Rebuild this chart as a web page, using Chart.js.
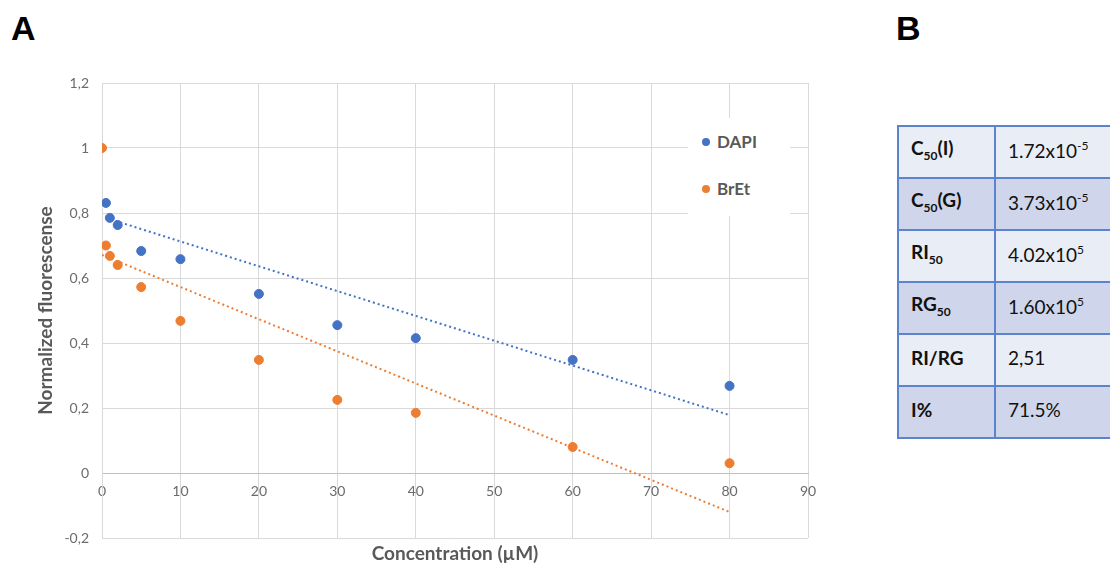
<!DOCTYPE html>
<html>
<head>
<meta charset="utf-8">
<script src="https://cdn.jsdelivr.net/npm/chart.js@4.4.1/dist/chart.umd.min.js"></script>
<style>
  html, body { margin: 0; padding: 0; background: #fff; overflow: hidden; }
  body { width: 1110px; height: 568px; position: relative; font-family: Lato, "Open Sans", sans-serif; }
  #wrap { position: absolute; left: 0; top: 0; width: 880px; height: 568px; }
  .panel { position: absolute; font-family: "Liberation Sans", Arial, sans-serif; font-weight: bold; font-size: 34px; color: #000; }
  #xtitle { position: absolute; left: 255px; width: 400px; top: 541px; text-align: center; font-weight: bold; font-size: 19px; color: #595959; }
  #legend { position: absolute; left: 688px; top: 118px; width: 102px; height: 98px; background: #fff; }
  .lg { position: absolute; left: 14px; font-weight: bold; font-size: 17px; color: #595959; }
  .lg i { display: inline-block; width: 8px; height: 8px; border-radius: 50%; margin-right: 7px; vertical-align: 2px; }
  table { position: absolute; left: 897px; top: 125px; border-collapse: collapse; width: 240px; font-size: 19px; color: #111; }
  td { border: 2px solid #5b84cc; height: 45px; padding: 0 0 5px 12px; }
  td:first-child { width: 83px; font-weight: bold; }
  tr:nth-child(odd) td { background: #e9edf6; }
  tr:nth-child(even) td { background: #cfd6eb; }
  sub { font-size: 12px; vertical-align: -5px; }
  sup { font-size: 12px; vertical-align: 8px; }
</style>
</head>
<body>
<div class="panel" style="left:11px;top:9px;">A</div>
<div class="panel" style="left:896px;top:9px;">B</div>
<div id="wrap"><canvas id="c" width="880" height="568"></canvas></div>
<div id="xtitle">Concentration (µM)</div>
<div id="legend">
  <div class="lg" style="top:13px;"><i style="background:#4472c4"></i>DAPI</div>
  <div class="lg" style="top:60px;"><i style="background:#ed7d31"></i>BrEt</div>
</div>
<table>
  <tr><td>C<sub>50</sub>(I)</td><td>1.72x10<sup>-5</sup></td></tr>
  <tr><td>C<sub>50</sub>(G)</td><td>3.73x10<sup>-5</sup></td></tr>
  <tr><td>RI<sub>50</sub></td><td>4.02x10<sup>5</sup></td></tr>
  <tr><td>RG<sub>50</sub></td><td>1.60x10<sup>5</sup></td></tr>
  <tr><td>RI/RG</td><td>2,51</td></tr>
  <tr><td>I%</td><td>71.5%</td></tr>
</table>
<script>
// values
const dapiConc = [0.5, 1, 2, 5, 10, 20, 30, 40, 60, 80];
const dapiFluo = [0.831, 0.785, 0.763, 0.683, 0.658, 0.551, 0.455, 0.415, 0.348, 0.268];
const bretConc = [0, 0.5, 1, 2, 5, 10, 20, 30, 40, 60, 80];
const bretFluo = [1.0, 0.70, 0.668, 0.64, 0.572, 0.468, 0.348, 0.225, 0.185, 0.08, 0.03];
// trendline end points (linear fits as drawn)
const dapiTrendX = [0.5, 80];
const dapiTrendY = [0.785, 0.178];
const bretTrendX = [0, 80];
const bretTrendY = [0.671, -0.12];

const BLUE = '#4472c4';
const ORANGE = '#ed7d31';
const GRID = '#d9d9d9';

const pts = (xs, ys) => xs.map((x, i) => ({ x, y: ys[i] }));

new Chart(document.getElementById('c').getContext('2d'), {
    type: 'scatter',
    data: {
        datasets: [
            { label: 'DAPI', data: pts(dapiConc, dapiFluo), backgroundColor: BLUE, borderColor: BLUE, pointRadius: 4.5, order: 1 },
            { label: 'BrEt', data: pts(bretConc, bretFluo), backgroundColor: ORANGE, borderColor: ORANGE, pointRadius: 4.5, order: 1 },
            { type: 'line', label: 'DAPI fit', data: pts(dapiTrendX, dapiTrendY), borderColor: BLUE, borderWidth: 2,
              borderDash: [2, 3], pointRadius: 0, fill: false, order: 2 },
            { type: 'line', label: 'BrEt fit', data: pts(bretTrendX, bretTrendY), borderColor: ORANGE, borderWidth: 2,
              borderDash: [2, 3], pointRadius: 0, fill: false, order: 2 },
        ],
    },
    options: {
        responsive: false,
        animation: false,
        layout: { padding: { left: 0, top: 83, right: 72, bottom: 30 } },
        plugins: { legend: { display: false }, tooltip: { enabled: false } },
        scales: {
            x: {
                type: 'linear',
                position: { y: 0 },
                min: 0, max: 90,
                ticks: { stepSize: 10, color: '#6b6b6b', font: { family: 'Lato', size: 14 }, padding: 10 },
                grid: { color: GRID, drawTicks: false },
                border: { color: '#bfbfbf', width: 1 },
            },
            y: {
                min: -0.2, max: 1.2,
                ticks: {
                    stepSize: 0.2, color: '#6b6b6b', font: { family: 'Lato', size: 14 }, padding: 13,
                    callback: v => String(Math.round(v * 10) / 10).replace('.', ','),
                },
                grid: { color: GRID, drawTicks: false },
                border: { color: GRID },
                title: { display: true, text: 'Normalized fluorescense', color: '#595959',
                         font: { family: 'Lato', size: 19, weight: 'bold' }, padding: { top: 34, bottom: 0 } },
                afterFit: s => { s.width = 102; },
            },
        },
    },
});
</script>
</body>
</html>
